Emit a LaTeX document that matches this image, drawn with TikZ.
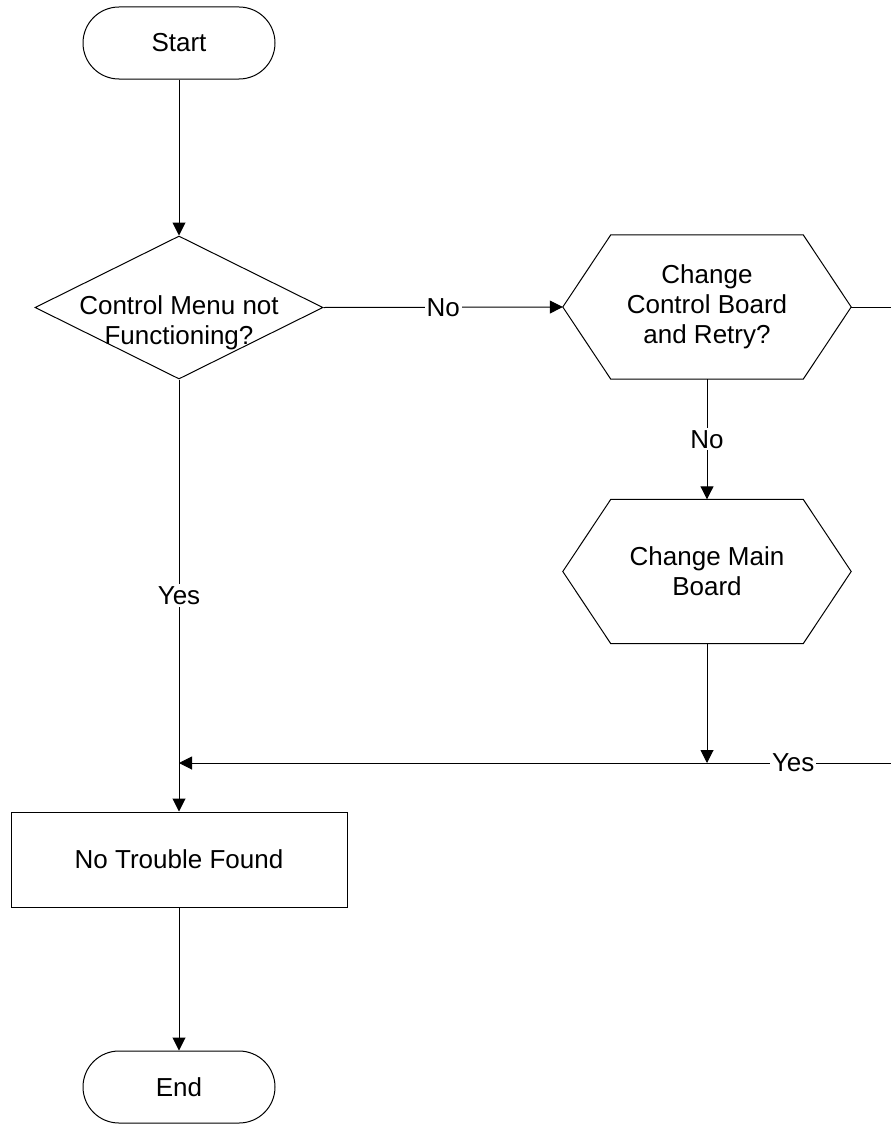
\documentclass[tikz,border=0pt]{standalone}
\usepackage{fontspec}
\setmainfont{Liberation Sans}
\usepackage{tikz}
\usetikzlibrary{arrows.meta,shapes.geometric}

% draw the six-sided outline round a named (rectangle) node
\newcommand\hexoutline[1]{%
  \draw[line] (#1.west) -- ([xshift=48pt]#1.north west) -- ([xshift=-48pt]#1.north east)
    -- (#1.east) -- ([xshift=-48pt]#1.south east) -- ([xshift=48pt]#1.south west) -- cycle;}

\begin{document}
\begin{tikzpicture}[x=1pt,y=-1pt,
    font=\fontsize{26}{30}\selectfont,
    line/.style={line width=1pt, black},
    arr/.style={line, -{Triangle[length=13pt,width=13pt]}},
    term/.style={line, draw, rounded corners=36pt, minimum width=192pt,
                 minimum height=72pt, inner sep=0pt},
    decide/.style={line, draw, diamond, minimum width=288pt, minimum height=143pt,
                   inner sep=0pt},
    hexbox/.style={rectangle, minimum width=288pt, minimum height=144pt,
                   inner sep=0pt, align=center},
    task/.style={line, draw, minimum width=336pt, minimum height=95pt, inner sep=0pt},
    lbl/.style={fill=white, inner sep=2pt}]

  \useasboundingbox (0,0) rectangle (891,1124);
  \clip (0,0) rectangle (891,1124);

  % ---- left column ----
  \node[term] (start) at (179,43) {Start};
  \node[decide, label={[yshift=-15pt,align=center]center:Control Menu not\\Functioning?}]
    (menu) at (179,307.5) {};
  \node[task] (ntf) at (179,859.5) {No Trouble Found};
  \node[term] (end) at (179,1087) {End};

  % ---- right column: the two six-sided boxes ----
  \node[hexbox] (board) at (707,307) {Change\\Control Board\\and Retry?};
  \hexoutline{board}
  \node[hexbox] (mainb) at (707,571.5) {Change Main\\Board};
  \hexoutline{mainb}

  % ---- points the feedback line runs through ----
  \coordinate (turn) at (905,307);
  \coordinate (merge) at (179,763);
  \coordinate (drop) at (707,763);

  % ---- connectors ----
  \draw[arr] (start.south) -- (menu.north);
  \draw[arr] (menu.east) -- node[lbl] {No} (board.west);
  \draw[arr] (board.south) -- node[lbl] {No} (mainb.north);
  \draw[arr] (menu.south) -- node[lbl] {Yes} (ntf.north);
  \draw[arr] (mainb.south) -- (drop);
  \draw[arr] (board.east) -- (turn) |- node[lbl, pos=0.577] {Yes} (merge);
  \draw[arr] (ntf.south) -- (end.north);
\end{tikzpicture}
\end{document}
